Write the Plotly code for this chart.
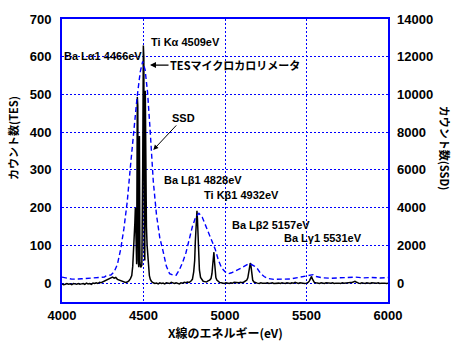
import plotly.graph_objects as go

# TES microcalorimeter spectrum (left axis, counts)
tes_energy = [
    4000, 4010, 4020, 4030, 4040, 4050, 4060, 4070, 4080, 4090,
    4100, 4110, 4120, 4130, 4140, 4150, 4160, 4170, 4180, 4190,
    4200, 4210, 4220, 4230, 4240, 4250, 4260, 4270, 4280, 4290,
    4300, 4310, 4320, 4330, 4340, 4350, 4360, 4370, 4380, 4390,
    4400, 4410, 4420, 4428, 4434, 4440, 4444, 4447, 4450, 4454,
    4458, 4462, 4465, 4468, 4471, 4475, 4478, 4483, 4490, 4495,
    4499, 4502, 4505, 4508, 4511, 4514, 4518, 4522, 4526, 4530,
    4536, 4542, 4550, 4560, 4570, 4580, 4590, 4600, 4610, 4620,
    4630, 4640, 4650, 4660, 4670, 4680, 4690, 4700, 4710, 4720,
    4730, 4740, 4750, 4760, 4770, 4780, 4790, 4800, 4808, 4814,
    4818, 4822, 4825, 4828, 4831, 4834, 4838, 4843, 4850, 4858,
    4866, 4876, 4886, 4896, 4906, 4914, 4920, 4925, 4929, 4932,
    4935, 4939, 4944, 4950, 4958, 4966, 4976, 4986, 4996, 5006,
    5016, 5026, 5036, 5046, 5056, 5066, 5076, 5086, 5096, 5106,
    5116, 5126, 5134, 5140, 5146, 5151, 5155, 5158, 5161, 5165,
    5170, 5178, 5188, 5198, 5210, 5220, 5230, 5240, 5250, 5260,
    5270, 5280, 5290, 5300, 5310, 5320, 5330, 5340, 5350, 5360,
    5370, 5380, 5390, 5400, 5410, 5420, 5430, 5440, 5450, 5460,
    5470, 5480, 5490, 5500, 5510, 5518, 5523, 5527, 5531, 5535,
    5540, 5548, 5558, 5570, 5580, 5590, 5600, 5610, 5620, 5630,
    5640, 5650, 5660, 5670, 5680, 5690, 5700, 5710, 5720, 5730,
    5740, 5750, 5760, 5770, 5780, 5790, 5797, 5804, 5812, 5820,
    5830, 5840, 5850, 5860, 5870, 5880, 5890, 5900, 5910, 5920,
    5930, 5940, 5950, 5960, 5970, 5980, 5990, 6000,
]
tes_counts = [
    -2, -4, -3, -1, -3, -2, -4, -1, -2, -3,
    -1, -3, -2, -1, -3, 0, -2, -1, -3, 0,
    -1, 1, -1, 2, 1, 3, 5, 7, 9, 12,
    14, 16, 13, 15, 10, 8, 6, 4, 3, 2,
    3, 6, 12, 20, 45, 92, 110, 160, 200, 60,
    50, 493, 470, 60, 42, 390, 55, 42, 48, 300,
    630, 600, 90, 60, 510, 300, 150, 100, 70, 45,
    20, 10, 4, 1, -1, 0, -2, 1, -1, 0,
    -2, 1, 0, -1, 2, 0, -1, 1, 0, -2,
    1, 0, 2, 1, 3, 2, 5, 10, 30, 60,
    110, 160, 185, 192, 170, 140, 80, 35, 15, 8,
    5, 4, 3, 6, 8, 12, 25, 50, 75, 82,
    60, 35, 15, 8, 4, 2, 1, 0, -1, 1,
    0, -1, 1, 0, 2, 1, 0, 1, 2, 1,
    3, 5, 8, 14, 28, 45, 53, 50, 35, 18,
    8, 3, 1, 0, -1, 1, 0, -1, 0, 1,
    -1, 0, 1, -1, 0, 1, 0, -1, 1, 0,
    -1, 1, 0, -1, 1, 0, 2, 0, -1, 1,
    0, 1, -1, 0, 2, 6, 12, 17, 18, 12,
    6, 2, 1, 0, -1, 1, 0, -1, 1, 0,
    -1, 0, 1, -1, 0, 1, 0, -1, 1, 0,
    1, 0, 1, 2, 2, 3, 5, 3, 1, 0,
    -1, 1, 0, -1, 1, 0, -1, 1, 0, -1,
    0, 1, -1, 0, 1, 0, -1, 0,
]

# Si drift detector spectrum (right axis, counts)
ssd_energy = [
    4000, 4020, 4040, 4060, 4080, 4100, 4120, 4140, 4160, 4180,
    4200, 4220, 4240, 4260, 4270, 4280, 4300, 4320, 4340, 4360,
    4380, 4400, 4420, 4440, 4460, 4480, 4495, 4510, 4525, 4540,
    4550, 4560, 4580, 4600, 4620, 4640, 4660, 4680, 4700, 4720,
    4740, 4760, 4780, 4800, 4820, 4840, 4860, 4880, 4900, 4920,
    4940, 4960, 4980, 5000, 5020, 5040, 5060, 5080, 5100, 5120,
    5140, 5160, 5180, 5200, 5220, 5240, 5260, 5300, 5350, 5400,
    5450, 5500, 5520, 5540, 5560, 5600, 5650, 5700, 5750, 5800,
    5850, 5900, 5950, 6000,
]
ssd_counts = [
    320, 300, 250, 210, 200, 220, 230, 240, 250, 260,
    270, 280, 300, 320, 380, 420, 430, 600, 1000, 1800,
    2900, 4300, 6200, 8100, 9800, 11200, 11750, 11300, 10100, 8200,
    6600, 5400, 3600, 2400, 1700, 900, 500, 430, 420, 700,
    1100, 1600, 2300, 3000, 3500, 3700, 3500, 3100, 2600, 2200,
    1800, 1200, 800, 600, 500, 550, 650, 720, 800, 900,
    1000, 1000, 900, 750, 500, 350, 250, 200, 200, 220,
    300, 400, 450, 450, 350, 280, 260, 270, 300, 320,
    280, 300, 270, 300,
]

# peak labels: text, energy of left edge, left-axis height
label_text = ["Ti Kα 4509eV", "Ba Lα1 4466eV", "Ba Lβ1 4828eV",
              "Ti Kβ1 4932eV", "Ba Lβ2 5157eV", "Ba Lγ1 5531eV"]
label_x = [4532, 4000, 4615, 4860, 5028, 5352]
label_y = [640, 601, 273, 234, 153, 119]

BLUE = "#0000ff"
FONT = "Liberation Sans"

fig = go.Figure()

fig.add_trace(go.Scatter(
    x=ssd_energy, y=ssd_counts, yaxis="y2", mode="lines",
    line=dict(color=BLUE, width=1.4, dash="5px,3px"), name="SSD"
))
fig.add_trace(go.Scatter(
    x=tes_energy, y=tes_counts, mode="lines",
    line=dict(color="black", width=1.5), name="TES"
))

for t, lx, ly in zip(label_text, label_x, label_y):
    fig.add_annotation(x=lx, y=ly, text=t, showarrow=False,
                       xanchor="left", yanchor="middle",
                       font=dict(family=FONT, size=11, color="black", weight="bold"))

# arrows to the two detectors
fig.add_annotation(x=4540, y=578, text="TESマイクロカロリメータ", showarrow=True,
                   ax=85, ay=0, arrowhead=2, arrowsize=1, arrowwidth=1.2,
                   arrowcolor="black",
                   font=dict(family="Noto Sans CJK JP", size=11, color="black", weight="bold"))
fig.add_annotation(x=4560, y=353, text="SSD", showarrow=True,
                   ax=30, ay=-32, arrowhead=2, arrowsize=1, arrowwidth=1,
                   arrowcolor="black",
                   font=dict(family=FONT, size=11, color="black", weight="bold"))

# axis titles
title_font = dict(family="Noto Sans CJK JP", size=11, color="black", weight="bold")
fig.add_annotation(x=0.5, y=-0.108, xref="paper", yref="paper",
                   xanchor="center", yanchor="middle",
                   text="X線のエネルギー(eV)", showarrow=False,
                   font=dict(family="Noto Sans CJK JP", size=12, color="black", weight="bold"))
fig.add_annotation(x=-0.15, y=0.58, xref="paper", yref="paper",
                   xanchor="center", yanchor="middle",
                   text="カウント数(TES)", showarrow=False, textangle=-90,
                   font=title_font)
fig.add_annotation(x=1.175, y=0.545, xref="paper", yref="paper",
                   xanchor="center", yanchor="middle",
                   text="カウント数(SSD)", showarrow=False, textangle=90,
                   font=title_font)

tick_font = dict(family=FONT, size=13, color="black", weight="bold")

fig.update_layout(
    width=458, height=348,
    margin=dict(l=62, r=70, t=14, b=46),
    paper_bgcolor="white", plot_bgcolor="white",
    showlegend=False,
    xaxis=dict(range=[4000, 6000], tickvals=[4000, 4500, 5000, 5500, 6000],
               showline=True, linecolor=BLUE, linewidth=2, mirror=True,
               showgrid=True, gridcolor=BLUE, griddash="2px,2px", gridwidth=1,
               zeroline=False, ticks="", tickfont=tick_font,
               ticklabelstandoff=0),
    yaxis=dict(range=[-50, 700], tickvals=[0, 100, 200, 300, 400, 500, 600, 700],
               showline=True, linecolor=BLUE, linewidth=2, mirror=True,
               showgrid=True, gridcolor=BLUE, griddash="2px,2px", gridwidth=1,
               zeroline=False, ticks="", tickfont=tick_font,
               ticklabelstandoff=6),
    yaxis2=dict(range=[-1000, 14000], overlaying="y", side="right",
                tickvals=[0, 2000, 4000, 6000, 8000, 10000, 12000, 14000],
                tickformat="d",
                showgrid=False, zeroline=False, showline=False,
                ticks="", tickfont=tick_font, ticklabelstandoff=8),
)

fig.write_html("out.html", config={"displayModeBar": False},
               post_script="document.body.style.margin='0';document.body.style.overflow='hidden';")
